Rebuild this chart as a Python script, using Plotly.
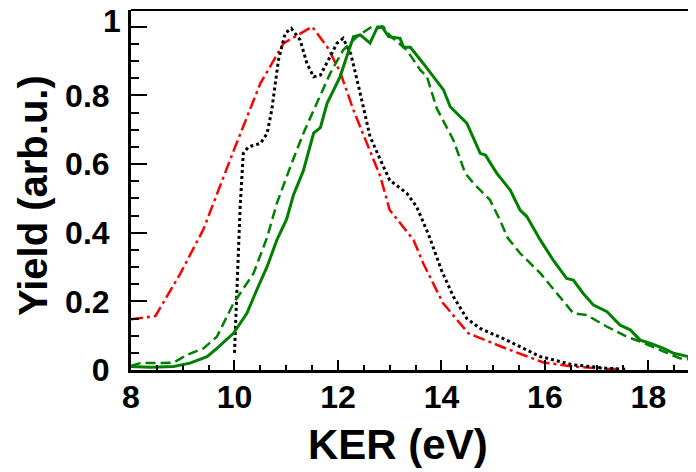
import plotly.graph_objects as go

# KER spectra, values
red_x = [8.0, 8.47, 8.95, 9.4, 10.0, 10.5, 10.95, 11.5, 11.79, 12.04, 12.3, 12.56,
         12.82, 13.0, 13.46, 13.65, 14.03, 14.52, 15.26, 15.97, 16.55, 17.2, 17.6]
red_y = [0.148, 0.157, 0.28, 0.41, 0.645, 0.835, 0.952, 1.0, 0.942, 0.869, 0.757, 0.66,
         0.563, 0.466, 0.379, 0.31, 0.195, 0.107, 0.062, 0.022, 0.01, 0.004, 0.002]

black_x = [10.0, 10.11, 10.17, 10.27, 10.5, 10.63, 10.72, 10.85, 10.98, 11.1, 11.27, 11.4,
           11.53, 11.66, 11.85, 11.98, 12.1, 12.25, 12.43, 12.62, 12.82, 13.0, 13.33,
           13.52, 13.75, 14.0, 14.23, 14.49, 14.75, 15.26, 15.91, 16.55, 17.2, 17.6]
black_y = [0.05, 0.476, 0.631, 0.65, 0.66, 0.689, 0.757, 0.903, 0.981, 0.995, 0.961, 0.893,
           0.854, 0.859, 0.913, 0.952, 0.966, 0.92, 0.806, 0.68, 0.612, 0.553, 0.515,
           0.476, 0.395, 0.291, 0.214, 0.15, 0.121, 0.087, 0.039, 0.015, 0.005, 0.002]

gdash_x = [8.0, 8.18, 8.82, 9.08, 9.4, 9.66, 9.98, 10.37, 10.63, 10.82, 11.08, 11.33, 11.59,
           11.85, 12.1, 12.37, 12.65, 12.88, 13.0, 13.33, 13.59, 13.72, 13.91, 14.23, 14.46,
           14.62, 14.94, 15.13, 15.28, 15.52, 15.91, 16.23, 16.55, 16.81, 17.2, 17.58,
           17.84, 18.23, 18.61, 18.92]
gdash_y = [0.012, 0.02, 0.021, 0.044, 0.063, 0.097, 0.194, 0.282, 0.386, 0.486, 0.592, 0.689,
           0.777, 0.864, 0.932, 0.971, 1.0, 1.0, 0.975, 0.932, 0.874, 0.854, 0.762, 0.67, 0.573,
           0.544, 0.495, 0.437, 0.385, 0.34, 0.282, 0.223, 0.165, 0.16, 0.126, 0.097,
           0.083, 0.058, 0.034, 0.029]

gsolid_x = [8.0, 8.37, 8.82, 9.14, 9.47, 9.66, 9.98, 10.24, 10.43, 10.63, 10.82, 11.01, 11.14,
            11.33, 11.53, 11.66, 11.79, 11.91, 12.04, 12.17, 12.3, 12.43, 12.62, 12.75, 12.85,
            12.98, 13.2, 13.27, 13.4, 13.65, 13.85, 14.04, 14.17, 14.36, 14.49, 14.75, 14.85,
            15.07, 15.33, 15.52, 15.65, 15.91, 16.16, 16.42, 16.55, 16.74, 16.94, 17.2, 17.45,
            17.65, 17.84, 18.03, 18.29, 18.48, 18.74, 18.92]
gsolid_y = [0.01, 0.008, 0.01, 0.02, 0.039, 0.063, 0.107, 0.165, 0.233, 0.301, 0.379, 0.44, 0.51,
            0.58, 0.69, 0.706, 0.777, 0.816, 0.854, 0.913, 0.971, 0.976, 0.952, 0.995, 1.0,
            0.971, 0.966, 0.94, 0.94, 0.893, 0.854, 0.816, 0.767, 0.738, 0.719, 0.631, 0.626,
            0.573, 0.524, 0.466, 0.447, 0.379, 0.32, 0.267, 0.262, 0.223, 0.189, 0.17, 0.131,
            0.117, 0.087, 0.078, 0.063, 0.049, 0.039, 0.034]

y_tickvals = [0, 0.2, 0.4, 0.6, 0.8, 1.0]
y_ticktext = ["0", "0.2", "0.4", "0.6", "0.8", ""]

GREEN = "#008000"
FONT = "Liberation Sans, Arial, sans-serif"

fig = go.Figure()
fig.add_trace(go.Scatter(x=red_x, y=red_y, mode="lines",
                         line=dict(color="#ff0000", width=2.5, dash="12px,4px,3px,4px")))
fig.add_trace(go.Scatter(x=black_x, y=black_y, mode="lines",
                         line=dict(color="black", width=3, dash="3px,3px")))
fig.add_trace(go.Scatter(x=gdash_x, y=gdash_y, mode="lines",
                         line=dict(color=GREEN, width=2.5, dash="10px,5px")))
fig.add_trace(go.Scatter(x=gsolid_x, y=gsolid_y, mode="lines",
                         line=dict(color=GREEN, width=3)))

# page body has an 8px margin, so the figure is 8px smaller than the window
fig.update_layout(
    width=688, height=464,
    margin=dict(l=123, r=0, t=2, b=102),
    plot_bgcolor="white", paper_bgcolor="white",
    showlegend=False,
    font=dict(family=FONT, color="black", size=32, weight="bold"),
    xaxis=dict(
        range=[8, 18.92], tick0=8, dtick=2,
        showgrid=False, zeroline=False,
        showline=True, linecolor="black", linewidth=3,
        ticks="inside", ticklen=10, tickwidth=2, tickcolor="black",
        minor=dict(dtick=0.5, tick0=8, ticks="inside", ticklen=5, tickwidth=2,
                   tickcolor="black", showgrid=False),
        tickfont=dict(size=32, weight="bold"),
        ticklabelstandoff=-3,
    ),
    yaxis=dict(
        range=[0, 1.0487],
        tickmode="array", tickvals=y_tickvals, ticktext=y_ticktext,
        showgrid=False, zeroline=False,
        showline=True, linecolor="black", linewidth=3,
        ticks="inside", ticklen=16, tickwidth=2, tickcolor="black",
        minor=dict(tickmode="linear", tick0=0, dtick=0.05, ticks="inside", ticklen=8,
                   tickwidth=2, tickcolor="black", showgrid=False),
        tickfont=dict(size=32, weight="bold"),
        ticklabelstandoff=12,
    ),
)

# top frame line
fig.add_shape(type="line", xref="paper", yref="paper", x0=0, x1=1, y0=1, y1=1,
              line=dict(color="black", width=2))

# axis titles
fig.add_annotation(text="KER (eV)", xref="paper", yref="paper", x=0.4726, y=-0.2056,
                   xanchor="center", yanchor="middle", showarrow=False,
                   font=dict(size=42, weight="bold"))
fig.add_annotation(text="Yield (arb.u.)", xref="paper", yref="paper", x=-0.1735, y=0.486,
                   xanchor="center", yanchor="middle", textangle=-90, showarrow=False,
                   font=dict(size=40, weight="bold"))

# the "1" label sits above its tick in the original
fig.add_annotation(text="1", xref="paper", yref="paper", x=0, y=1,
                   xanchor="right", yanchor="top", xshift=-8, yshift=9,
                   showarrow=False, font=dict(size=32, weight="bold"))

fig.write_html("out.html")
